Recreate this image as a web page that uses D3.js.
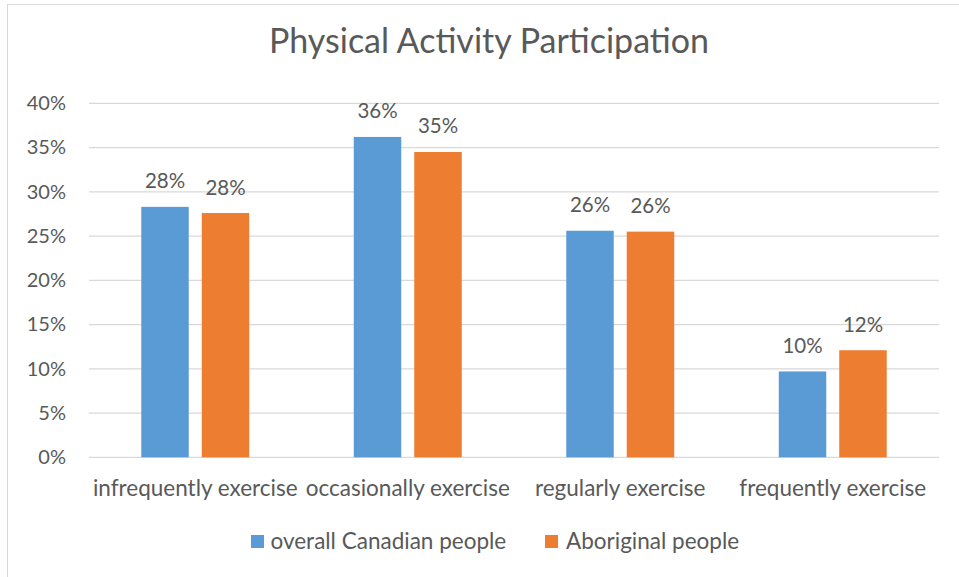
<!DOCTYPE html>
<html>
<head>
<meta charset="utf-8">
<script src="https://cdn.jsdelivr.net/npm/d3@7"></script>
<style>
  body { margin: 0; background: #fff; }
  text { font-family: Lato, "Open Sans", sans-serif; fill: #595959; }
</style>
</head>
<body>
<div id="chart"></div>
<script>
var categories = ["infrequently exercise", "occasionally exercise", "regularly exercise", "frequently exercise"];
var seriesNames = ["overall Canadian people", "Aboriginal people"];
var canadian = [28.3, 36.2, 25.6, 9.7];
var aboriginal = [27.6, 34.5, 25.5, 12.1];
var yTicks = [0, 5, 10, 15, 20, 25, 30, 35, 40];
var colors = ["#5b9bd5", "#ed7d31"];

var W = 959, H = 577,
    margin = {top: 103.3, left: 89},
    width = 939 - margin.left,
    height = 457.3 - margin.top;

var svg = d3.select("#chart").append("svg")
    .attr("width", W)
    .attr("height", H);

svg.append("rect")
    .attr("x", 7.5).attr("y", 4.5)
    .attr("width", W + 10).attr("height", H + 10)
    .attr("fill", "#fff")
    .attr("stroke", "#d9d9d9");

svg.append("text")
    .attr("x", 489).attr("y", 53)
    .attr("text-anchor", "middle")
    .style("font-size", "34px")
    .text("Physical Activity Participation");

var g = svg.append("g")
    .attr("transform", "translate(" + margin.left + "," + margin.top + ")");

var x0 = d3.scaleBand().domain(categories).range([0, width]);
var x1 = d3.scaleBand().domain(seriesNames).range([0, x0.bandwidth()])
    .paddingInner(0.215).paddingOuter(0.864);
var y = d3.scaleLinear().domain([0, 40]).range([height, 0]);

// gridlines
g.selectAll(".grid")
  .data(yTicks)
  .enter().append("line")
    .attr("x1", 0).attr("x2", width)
    .attr("y1", function(d) { return y(d); })
    .attr("y2", function(d) { return y(d); })
    .attr("stroke", "#d9d9d9")
    .attr("stroke-width", 1.2);

var yAxis = g.append("g")
    .call(d3.axisLeft(y).tickValues(yTicks).tickSize(0).tickPadding(23)
      .tickFormat(function(d) { return d + "%"; }));
yAxis.select(".domain").remove();
yAxis.selectAll("text").style("font-size", "20px").attr("fill", "#595959");

var xAxis = g.append("g")
    .attr("transform", "translate(0," + height + ")")
    .call(d3.axisBottom(x0).tickSize(0));
xAxis.select(".domain").remove();
xAxis.selectAll("text")
    .attr("y", 39).attr("dy", 0)
    .style("font-size", "22.5px").attr("fill", "#595959");

var data = categories.map(function(c, i) {
  return {cat: c, vals: [canadian[i], aboriginal[i]]};
});

var groups = g.selectAll(".group")
  .data(data)
  .enter().append("g")
    .attr("transform", function(d) { return "translate(" + x0(d.cat) + ",0)"; });

groups.selectAll("rect")
  .data(function(d) { return d.vals.map(function(v, j) { return {key: seriesNames[j], v: v, j: j}; }); })
  .enter().append("rect")
    .attr("x", function(d) { return x1(d.key); })
    .attr("y", function(d) { return y(d.v); })
    .attr("width", x1.bandwidth())
    .attr("height", function(d) { return height - y(d.v); })
    .attr("fill", function(d) { return colors[d.j]; });

groups.selectAll(".lbl")
  .data(function(d) { return d.vals.map(function(v, j) { return {key: seriesNames[j], v: v}; }); })
  .enter().append("text")
    .attr("x", function(d) { return x1(d.key) + x1.bandwidth() / 2; })
    .attr("y", function(d) { return y(d.v) - 18.5; })
    .attr("text-anchor", "middle")
    .style("font-size", "20.5px")
    .text(function(d) { return Math.round(d.v) + "%"; });

// legend
var legendX = [251, 545];
var legend = svg.selectAll(".legend")
  .data(seriesNames)
  .enter().append("g")
    .attr("transform", function(d, i) { return "translate(" + legendX[i] + ",535)"; });

legend.append("rect")
    .attr("width", 13).attr("height", 13)
    .attr("fill", function(d, i) { return colors[i]; });

legend.append("text")
    .attr("x", function(d, i) { return i ? 21 : 19.5; }).attr("y", 6.5)
    .attr("dy", "0.35em")
    .style("font-size", "22.5px")
    .text(function(d) { return d; });
</script>
</body>
</html>
